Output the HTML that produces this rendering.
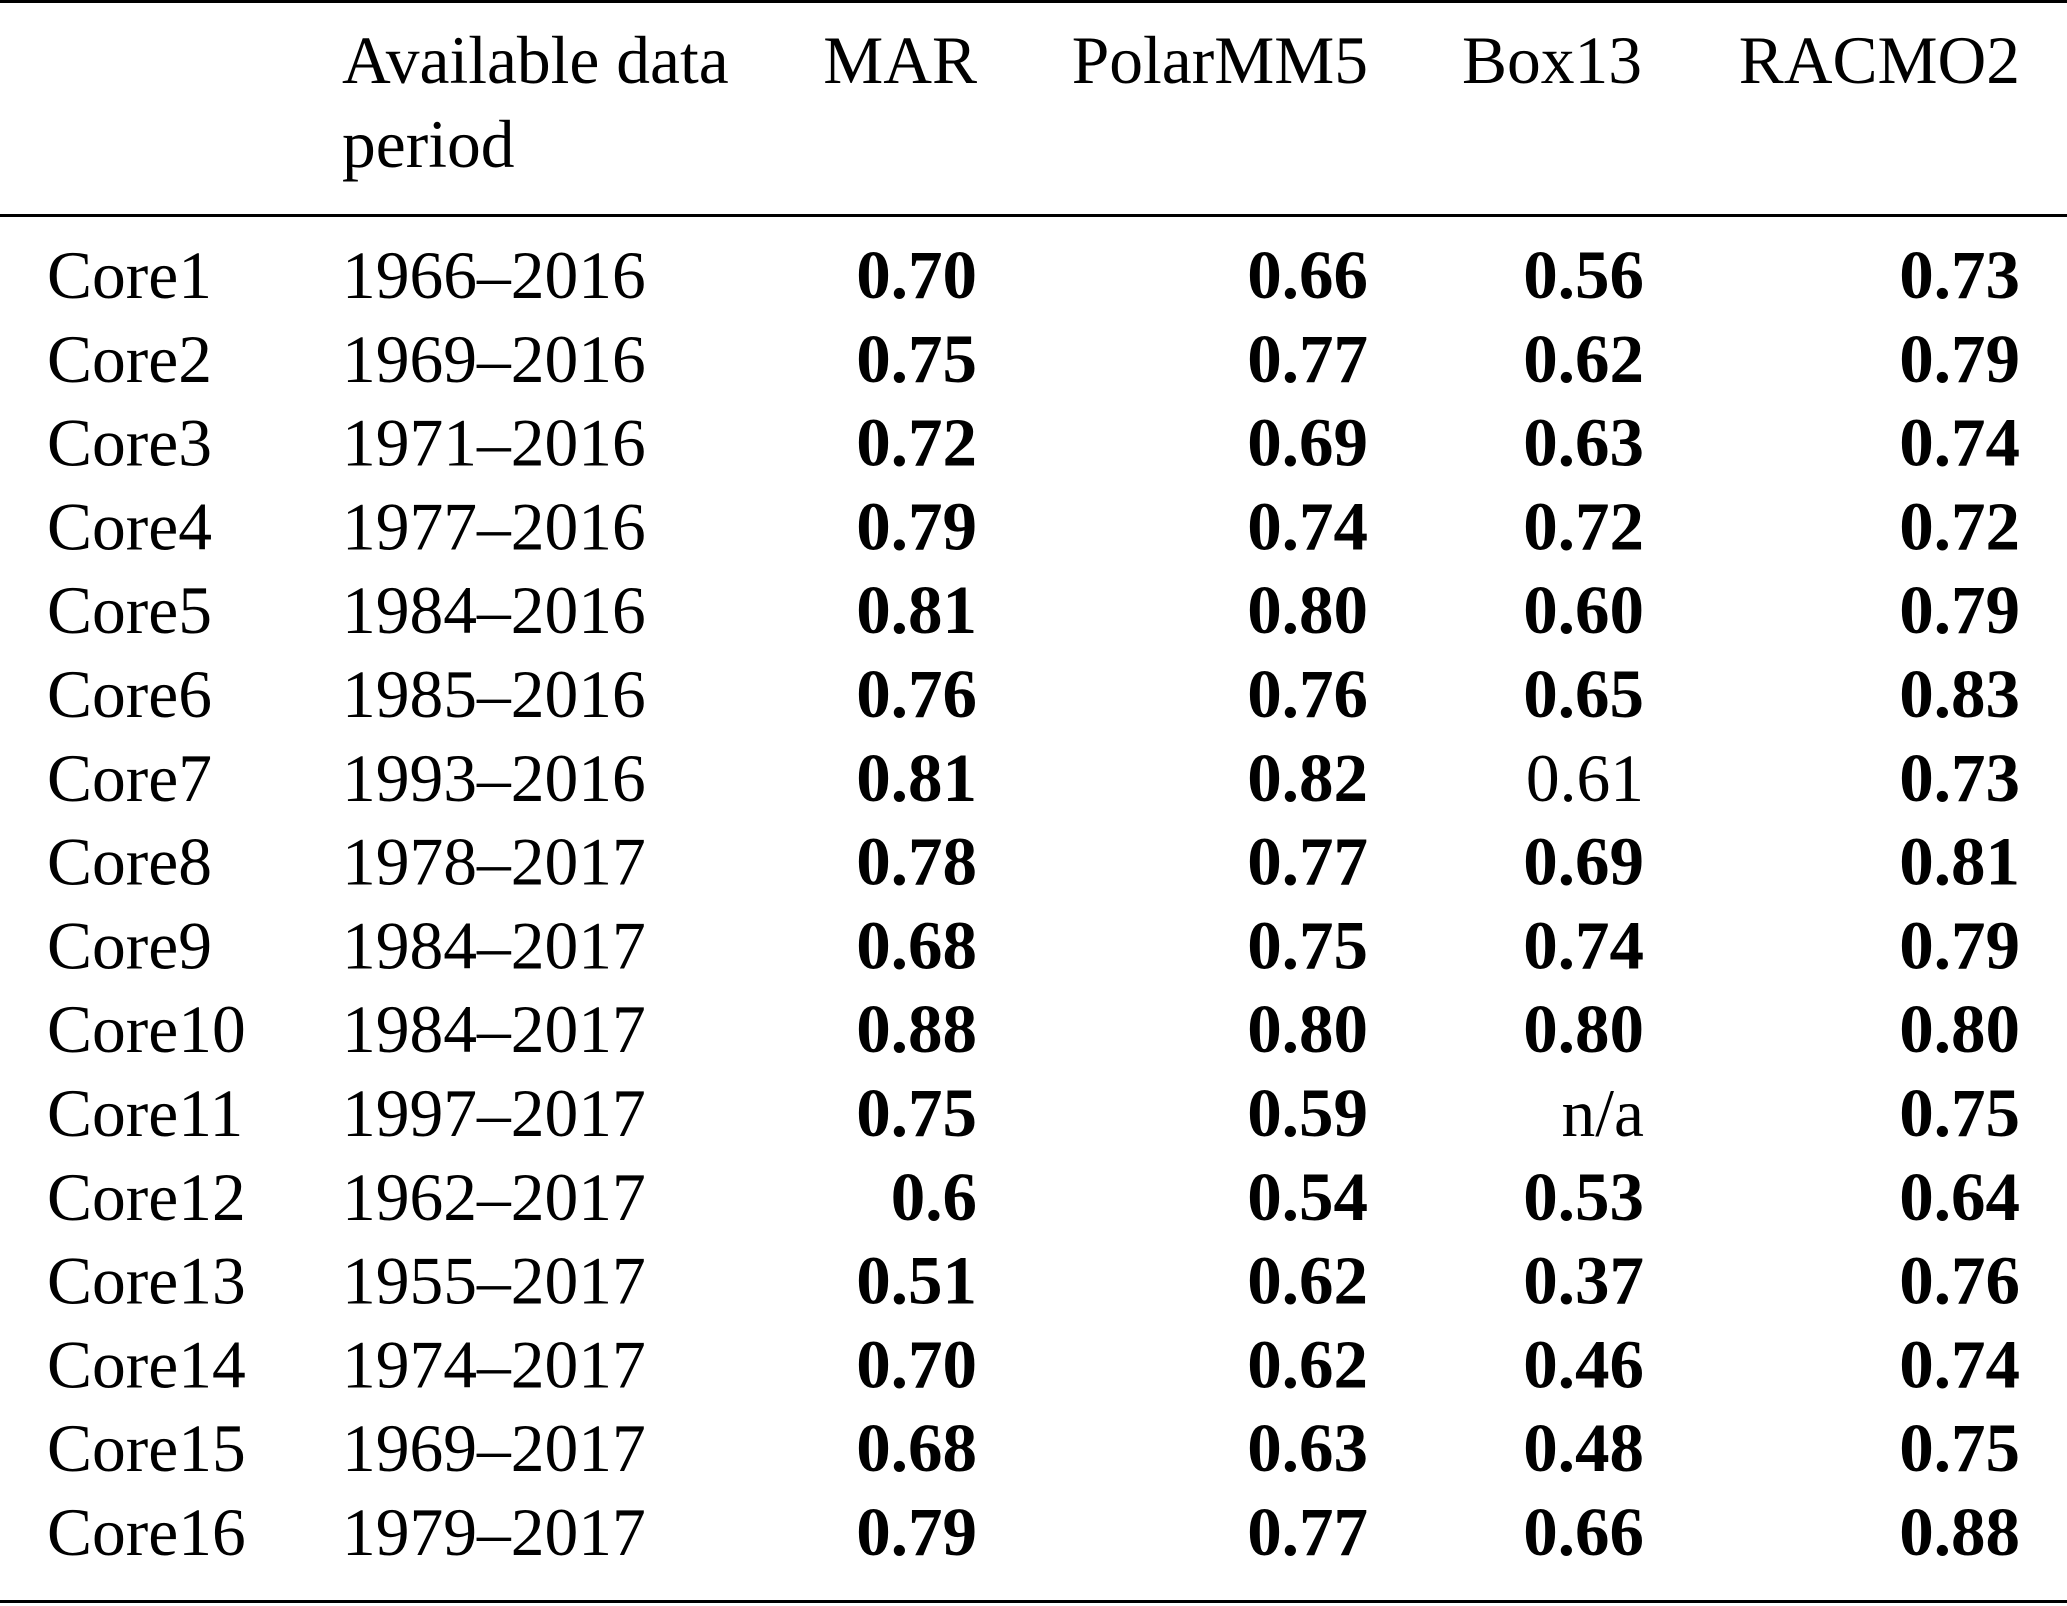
<!DOCTYPE html>
<html>
<head>
<meta charset="utf-8">
<style>
html,body{margin:0;padding:0;background:#fff;}
svg{display:block;}
text{font-family:"Liberation Serif","Times New Roman",serif;font-size:67.5px;fill:#000;}
.b{font-weight:bold;font-size:69px;}
.r{text-anchor:end;}
</style>
</head>
<body>
<svg width="2067" height="1606" viewBox="0 0 2067 1606" xmlns="http://www.w3.org/2000/svg">
<rect x="0" y="0" width="2067" height="3" fill="#000"/>
<rect x="0" y="214" width="2067" height="3" fill="#000"/>
<rect x="0" y="1600" width="2067" height="3" fill="#000"/>

<text x="342" y="83">Available data</text>
<text x="342" y="167">period</text>
<text class="r" x="977" y="83">MAR</text>
<text class="r" x="1368" y="83">PolarMM5</text>
<text class="r" x="1642" y="83">Box13</text>
<text class="r" x="2020" y="83">RACMO2</text>

<g>
<text x="47" y="298">Core1</text><text x="342" y="298">1966–2016</text>
<text class="r b" x="977" y="298">0.70</text><text class="r b" x="1368" y="298">0.66</text><text class="r b" x="1644" y="298">0.56</text><text class="r b" x="2020" y="298">0.73</text>

<text x="47" y="381.8">Core2</text><text x="342" y="381.8">1969–2016</text>
<text class="r b" x="977" y="381.8">0.75</text><text class="r b" x="1368" y="381.8">0.77</text><text class="r b" x="1644" y="381.8">0.62</text><text class="r b" x="2020" y="381.8">0.79</text>

<text x="47" y="465.6">Core3</text><text x="342" y="465.6">1971–2016</text>
<text class="r b" x="977" y="465.6">0.72</text><text class="r b" x="1368" y="465.6">0.69</text><text class="r b" x="1644" y="465.6">0.63</text><text class="r b" x="2020" y="465.6">0.74</text>

<text x="47" y="549.4">Core4</text><text x="342" y="549.4">1977–2016</text>
<text class="r b" x="977" y="549.4">0.79</text><text class="r b" x="1368" y="549.4">0.74</text><text class="r b" x="1644" y="549.4">0.72</text><text class="r b" x="2020" y="549.4">0.72</text>

<text x="47" y="633.2">Core5</text><text x="342" y="633.2">1984–2016</text>
<text class="r b" x="977" y="633.2">0.81</text><text class="r b" x="1368" y="633.2">0.80</text><text class="r b" x="1644" y="633.2">0.60</text><text class="r b" x="2020" y="633.2">0.79</text>

<text x="47" y="717">Core6</text><text x="342" y="717">1985–2016</text>
<text class="r b" x="977" y="717">0.76</text><text class="r b" x="1368" y="717">0.76</text><text class="r b" x="1644" y="717">0.65</text><text class="r b" x="2020" y="717">0.83</text>

<text x="47" y="800.8">Core7</text><text x="342" y="800.8">1993–2016</text>
<text class="r b" x="977" y="800.8">0.81</text><text class="r b" x="1368" y="800.8">0.82</text><text class="r" x="1644" y="800.8">0.61</text><text class="r b" x="2020" y="800.8">0.73</text>

<text x="47" y="884.6">Core8</text><text x="342" y="884.6">1978–2017</text>
<text class="r b" x="977" y="884.6">0.78</text><text class="r b" x="1368" y="884.6">0.77</text><text class="r b" x="1644" y="884.6">0.69</text><text class="r b" x="2020" y="884.6">0.81</text>

<text x="47" y="968.4">Core9</text><text x="342" y="968.4">1984–2017</text>
<text class="r b" x="977" y="968.4">0.68</text><text class="r b" x="1368" y="968.4">0.75</text><text class="r b" x="1644" y="968.4">0.74</text><text class="r b" x="2020" y="968.4">0.79</text>

<text x="47" y="1052.2">Core10</text><text x="342" y="1052.2">1984–2017</text>
<text class="r b" x="977" y="1052.2">0.88</text><text class="r b" x="1368" y="1052.2">0.80</text><text class="r b" x="1644" y="1052.2">0.80</text><text class="r b" x="2020" y="1052.2">0.80</text>

<text x="47" y="1136">Core11</text><text x="342" y="1136">1997–2017</text>
<text class="r b" x="977" y="1136">0.75</text><text class="r b" x="1368" y="1136">0.59</text><text class="r" x="1644" y="1136">n/a</text><text class="r b" x="2020" y="1136">0.75</text>

<text x="47" y="1219.8">Core12</text><text x="342" y="1219.8">1962–2017</text>
<text class="r b" x="977" y="1219.8">0.6</text><text class="r b" x="1368" y="1219.8">0.54</text><text class="r b" x="1644" y="1219.8">0.53</text><text class="r b" x="2020" y="1219.8">0.64</text>

<text x="47" y="1303.6">Core13</text><text x="342" y="1303.6">1955–2017</text>
<text class="r b" x="977" y="1303.6">0.51</text><text class="r b" x="1368" y="1303.6">0.62</text><text class="r b" x="1644" y="1303.6">0.37</text><text class="r b" x="2020" y="1303.6">0.76</text>

<text x="47" y="1387.4">Core14</text><text x="342" y="1387.4">1974–2017</text>
<text class="r b" x="977" y="1387.4">0.70</text><text class="r b" x="1368" y="1387.4">0.62</text><text class="r b" x="1644" y="1387.4">0.46</text><text class="r b" x="2020" y="1387.4">0.74</text>

<text x="47" y="1471.2">Core15</text><text x="342" y="1471.2">1969–2017</text>
<text class="r b" x="977" y="1471.2">0.68</text><text class="r b" x="1368" y="1471.2">0.63</text><text class="r b" x="1644" y="1471.2">0.48</text><text class="r b" x="2020" y="1471.2">0.75</text>

<text x="47" y="1555">Core16</text><text x="342" y="1555">1979–2017</text>
<text class="r b" x="977" y="1555">0.79</text><text class="r b" x="1368" y="1555">0.77</text><text class="r b" x="1644" y="1555">0.66</text><text class="r b" x="2020" y="1555">0.88</text>
</g>
</svg>
</body>
</html>
